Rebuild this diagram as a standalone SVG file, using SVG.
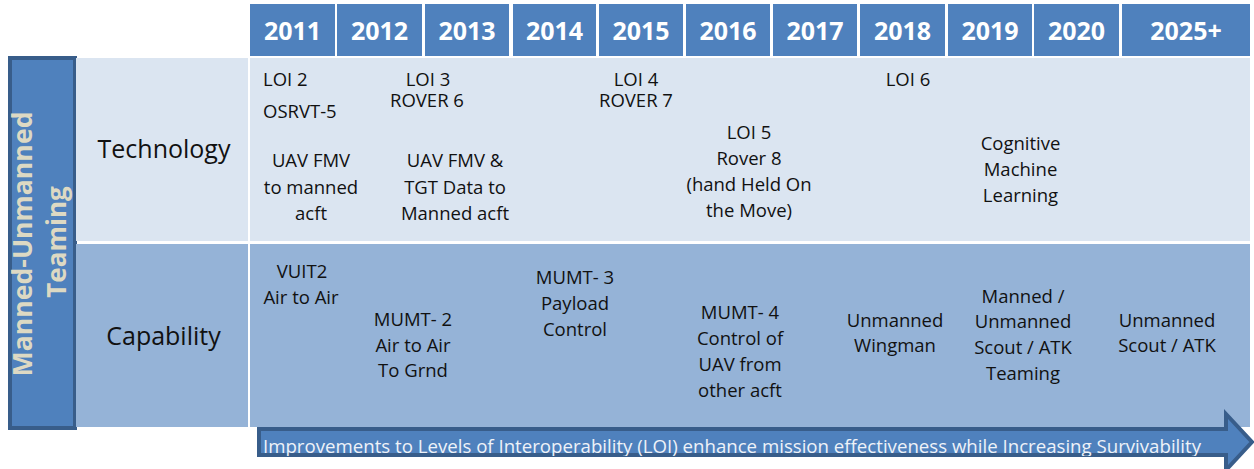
<svg xmlns="http://www.w3.org/2000/svg" width="1254" height="469" viewBox="0 0 1254 469">
<style>
.yr{fill:#4f81bd}
.yt{font-family:"Open Sans","Liberation Sans",sans-serif;font-weight:bold;font-size:25px;fill:#ffffff;text-anchor:middle}
.t{font-family:"Open Sans","Liberation Sans",sans-serif;font-size:18.5px;fill:#111111;text-anchor:middle}
.tl{font-family:"Open Sans","Liberation Sans",sans-serif;font-size:18.5px;fill:#111111}
.big{font-family:"Open Sans","Liberation Sans",sans-serif;font-size:25px;fill:#111111;text-anchor:middle}
.tech{fill:#dbe5f1}
.cap{fill:#95b3d7}
.side{font-family:"Open Sans","Liberation Sans",sans-serif;font-weight:bold;font-size:26px;fill:#ddd9c3;text-anchor:middle}
</style>
<defs>
<clipPath id="bodyclip"><rect x="257" y="427" width="1000" height="29"/></clipPath>
</defs>
<rect width="1254" height="469" fill="#ffffff"/>

<g id="years">
<rect class="yr" x="250" y="4" width="85" height="52"/>
<rect class="yr" x="337" y="4" width="85" height="52"/>
<rect class="yr" x="425" y="4" width="84" height="52"/>
<rect class="yr" x="513" y="4" width="83" height="52"/>
<rect class="yr" x="599" y="4" width="84" height="52"/>
<rect class="yr" x="686" y="4" width="84" height="52"/>
<rect class="yr" x="773" y="4" width="84" height="52"/>
<rect class="yr" x="860" y="4" width="85" height="52"/>
<rect class="yr" x="948" y="4" width="84" height="52"/>
<rect class="yr" x="1034" y="4" width="85" height="52"/>
<rect class="yr" x="1122" y="4" width="128" height="52"/>
<text class="yt" x="292.5" y="40">2011</text>
<text class="yt" x="379.5" y="40">2012</text>
<text class="yt" x="467" y="40">2013</text>
<text class="yt" x="554.5" y="40">2014</text>
<text class="yt" x="641" y="40">2015</text>
<text class="yt" x="728" y="40">2016</text>
<text class="yt" x="815" y="40">2017</text>
<text class="yt" x="902.5" y="40">2018</text>
<text class="yt" x="990" y="40">2019</text>
<text class="yt" x="1076.5" y="40">2020</text>
<text class="yt" x="1186" y="40">2025+</text>
</g>

<g id="side-label">
<rect x="10" y="58" width="65" height="370" fill="#4f81bd" stroke="#385d8a" stroke-width="4"/>
<text class="side" transform="translate(32,244) rotate(-90)" x="0" y="0" textLength="265" lengthAdjust="spacingAndGlyphs">Manned-Unmanned</text>
<text class="side" transform="translate(66,242) rotate(-90)" x="0" y="0">Teaming</text>
</g>

<g id="technology-row">
<rect class="tech" x="76" y="58" width="172" height="183"/>
<rect class="tech" x="250" y="58" width="1000" height="183"/>
<text class="big" x="164" y="158">Technology</text>
</g>

<g id="capability-row">
<rect class="cap" x="76" y="244" width="172" height="183"/>
<rect class="cap" x="250" y="244" width="1000" height="183"/>
<text class="big" x="163.5" y="345">Capability</text>
</g>

<g id="tech-2011">
<text class="tl" x="263" y="86">LOI 2</text>
<text class="tl" x="263" y="118">OSRVT-5</text>
<text class="t" x="311" y="167">UAV FMV</text>
<text class="t" x="311" y="193.5">to manned</text>
<text class="t" x="311" y="220">acft</text>
</g>
<g id="tech-2013">
<text class="t" x="428" y="86">LOI 3</text>
<text class="t" x="427" y="107">ROVER 6</text>
<text class="t" x="455" y="167">UAV FMV &amp;</text>
<text class="t" x="455" y="193.5">TGT Data to</text>
<text class="t" x="455" y="220">Manned acft</text>
</g>
<g id="tech-2015">
<text class="t" x="636" y="86">LOI 4</text>
<text class="t" x="636" y="107">ROVER 7</text>
</g>
<g id="tech-2016">
<text class="t" x="749" y="139">LOI 5</text>
<text class="t" x="749" y="165">Rover 8</text>
<text class="t" x="749" y="191">(hand Held On</text>
<text class="t" x="749" y="217">the Move)</text>
</g>
<g id="tech-2018">
<text class="t" x="908" y="86">LOI 6</text>
</g>
<g id="tech-2019">
<text class="t" x="1020.5" y="150">Cognitive</text>
<text class="t" x="1020.5" y="176">Machine</text>
<text class="t" x="1020.5" y="202">Learning</text>
</g>

<g id="cap-2011">
<text class="t" x="302" y="278">VUIT2</text>
<text class="t" x="301" y="304">Air to Air</text>
</g>
<g id="cap-2012">
<text class="t" x="413" y="326">MUMT- 2</text>
<text class="t" x="413" y="352">Air to Air</text>
<text class="t" x="413" y="377">To Grnd</text>
</g>
<g id="cap-2014">
<text class="t" x="575" y="284">MUMT- 3</text>
<text class="t" x="575" y="310">Payload</text>
<text class="t" x="575" y="336">Control</text>
</g>
<g id="cap-2016">
<text class="t" x="740" y="319">MUMT- 4</text>
<text class="t" x="740" y="345">Control of</text>
<text class="t" x="740" y="371">UAV from</text>
<text class="t" x="740" y="397">other acft</text>
</g>
<g id="cap-2018">
<text class="t" x="895" y="327">Unmanned</text>
<text class="t" x="895" y="352">Wingman</text>
</g>
<g id="cap-2019">
<text class="t" x="1023" y="303">Manned /</text>
<text class="t" x="1023" y="328">Unmanned</text>
<text class="t" x="1023" y="354">Scout / ATK</text>
<text class="t" x="1023" y="380">Teaming</text>
</g>
<g id="cap-2025">
<text class="t" x="1167" y="327">Unmanned</text>
<text class="t" x="1167" y="352">Scout / ATK</text>
</g>

<g id="connectors">
<polygon points="259,429 1226,429 1226,414 1252,442 1226,470 1226,455 259,455" fill="#4f81bd" stroke="#385d8a" stroke-width="4" stroke-linejoin="miter"/>
<text x="263" y="453" clip-path="url(#bodyclip)" font-family="'Open Sans','Liberation Sans',sans-serif" font-size="18px" fill="#eef2f8" textLength="938" lengthAdjust="spacingAndGlyphs">Improvements to Levels of Interoperability (LOI) enhance mission effectiveness while Increasing Survivability</text>
</g>
</svg>
